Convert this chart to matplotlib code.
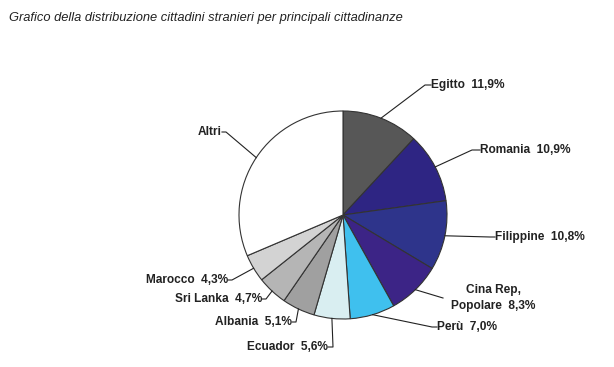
import numpy as np
import matplotlib
matplotlib.use("Agg")
import matplotlib.pyplot as plt

title = "Grafico della distribuzione cittadini stranieri per principali cittadinanze"
categories = ["Egitto", "Romania", "Filippine", "Cina Rep.\nPopolare", "Perù",
              "Ecuador", "Albania", "Sri Lanka", "Marocco", "Altri"]
values = [11.9, 10.9, 10.8, 8.3, 7.0, 5.6, 5.1, 4.7, 4.3, 31.4]
show_pct = [True] * 9 + [False]
colors = ["#575757", "#2e2583", "#2e348b", "#3c2486", "#3fc0ee",
          "#d9eef1", "#a0a0a0", "#b5b5b5", "#d3d3d3", "#ffffff"]

W, H = 614, 367
fig = plt.figure(figsize=(W / 100, H / 100), dpi=100)
ax = fig.add_axes([0, 0, 1, 1])

cx, cy, R = 343, H - 215, 104
wedges, _ = ax.pie(values, colors=colors, startangle=90, counterclock=False,
                   center=(cx, cy), radius=R, frame=True,
                   wedgeprops=dict(edgecolor="#333333", linewidth=0.8))
ax.set_xlim(0, W)
ax.set_ylim(0, H)
ax.set_aspect("equal")
ax.set_axis_off()

# layout: elbow point, text anchor point (pixel coords, y downward), alignment
layout = [
    ((425, 85), (431, 85), "left"),
    ((472, 150), (480, 150), "left"),
    ((490, 237), (495, 237), "left"),
    ((443, 298), (493, 298), "center"),
    ((432, 327), (437, 327), "left"),
    ((333, 347), (328, 347), "right"),
    ((296, 322), (292, 322), "right"),
    ((266, 299), (262, 299), "right"),
    ((232, 280), (228, 280), "right"),
    ((226, 132), (222, 132), "right"),
]

fp = dict(family=["Liberation Sans", "DejaVu Sans"], fontsize=8.6, fontweight="bold",
          color="#222222")
for w, name, v, sp, (elb, txt, ha) in zip(wedges, categories, values, show_pct, layout):
    mid = np.deg2rad((w.theta1 + w.theta2) / 2)
    sx, sy = cx + R * np.cos(mid), cy + R * np.sin(mid)
    ex, ey = elb[0], H - elb[1]
    tx, ty = txt[0], H - txt[1]
    if ha == "center":
        ax.plot([sx, ex], [sy, ey], color="#222222", lw=0.8)
    else:
        ax.plot([sx, ex, tx], [sy, ey, ty], color="#222222", lw=0.8)
    label = f"{name}  {v:.1f}%".replace(".", ",") if sp else name
    if ha == "center":
        ax.text(tx, ty, label, ha="center", va="center", linespacing=1.45, **fp)
    else:
        ax.text(tx, ty, label, ha=ha, va="center", **fp)

fig.text(9 / W, 1 - 18 / H, title, ha="left", va="center", fontsize=9.25,
         style="italic", family=["Liberation Sans", "DejaVu Sans"], color="#222222")

fig.savefig("out.png", dpi=100)
